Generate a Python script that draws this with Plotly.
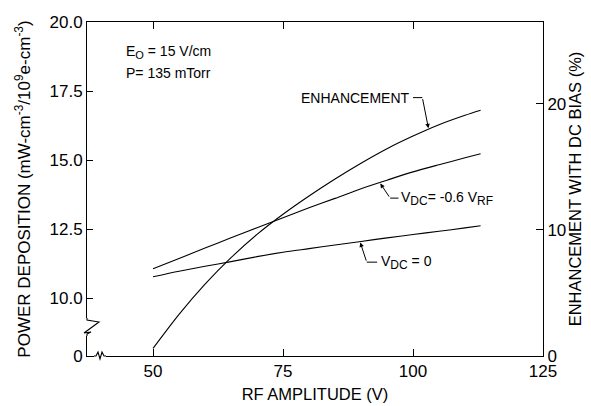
import numpy as np
import plotly.graph_objects as go

# ---------------- data ----------------
rf_amplitude = [50, 55, 60, 65, 70, 75, 80, 85, 90, 95, 100, 105, 110, 113]
power_vdc0 = [10.77, 10.97, 11.15, 11.32, 11.50, 11.66, 11.79, 11.92, 12.05, 12.18, 12.30, 12.42, 12.54, 12.62]
power_vdc_neg06 = [11.06, 11.43, 11.81, 12.18, 12.55, 12.91, 13.27, 13.61, 13.96, 14.27, 14.57, 14.83, 15.08, 15.23]
enhancement_pct = [0.6, 3.3, 5.7, 7.8, 9.65, 11.25, 12.7, 14.05, 15.3, 16.45, 17.45, 18.35, 19.1, 19.5]

x_ticks = [50, 75, 100, 125]
y_ticks = [10.0, 12.5, 15.0, 17.5, 20.0]
y_tick_text = ["10.0", "12.5", "15.0", "17.5", "20.0"]
y2_ticks = [0, 10, 20]

# axis layout (broken axis: bottom of left axis is labelled 0)
X_RANGE = [37.3, 125.0]
Y_BREAK_BASE = 7.9
Y_RANGE = [Y_BREAK_BASE, 20.0]
Y2_RANGE = [0.0, 26.5]

W, H = 591, 406
L, R, T, B = 87, 543, 22, 356   # plot-area pixel edges
FONT = "Liberation Sans, Arial, sans-serif"
INK = "#000000"


def px(xp, yp):
    """pixel -> paper coordinates (for decorative frame pieces)"""
    return (xp - L) / (R - L), (B - yp) / (B - T)


fig = go.Figure()
line_style = dict(color=INK, width=1.1, shape="spline", smoothing=0.8)
fig.add_trace(go.Scatter(x=rf_amplitude, y=power_vdc0, mode="lines", line=line_style,
                         yaxis="y", showlegend=False))
fig.add_trace(go.Scatter(x=rf_amplitude, y=power_vdc_neg06, mode="lines", line=line_style,
                         yaxis="y", showlegend=False))
fig.add_trace(go.Scatter(x=rf_amplitude, y=enhancement_pct, mode="lines", line=line_style,
                         yaxis="y2", showlegend=False))

# ---------------- frame decorations (axis breaks) ----------------
shapes = []
x0, y0 = px(L - 4, 336)
x1, y1 = px(L + 14, 318)
shapes.append(dict(type="rect", xref="paper", yref="paper", x0=x0, y0=y0, x1=x1, y1=y1,
                   fillcolor="white", line=dict(width=0), layer="above"))
x0, y0 = px(94, B + 5)
x1, y1 = px(106, B - 5)
shapes.append(dict(type="rect", xref="paper", yref="paper", x0=x0, y0=y0, x1=x1, y1=y1,
                   fillcolor="white", line=dict(width=0), layer="above"))


def path_from(points):
    s = ""
    for i, (a, b) in enumerate(points):
        pa, pb = px(a, b)
        s += ("M" if i == 0 else " L") + f" {pa:.5f},{pb:.5f}"
    return s


zig = [(L, 318), (L, 320), (99, 322), (84, 333), (91, 332), (L, 334), (L, 336)]
shapes.append(dict(type="path", xref="paper", yref="paper", path=path_from(zig),
                   line=dict(color=INK, width=1.1), layer="above"))
wig = [(94, B), (96, B), (98, B - 4), (100, B + 3), (102, B - 4), (104, B), (106, B)]
shapes.append(dict(type="path", xref="paper", yref="paper", path=path_from(wig),
                   line=dict(color=INK, width=1.1), layer="above"))

# ---------------- labels and leader lines ----------------
ann_font = dict(family=FONT, size=14, color=INK)
annotations = []


def sub(t, size=12):
    return f"<sub><span style='font-size:{size}px'>{t}</span></sub>"


annotations.append(dict(xref="paper", yref="paper", x=px(124, 0)[0], y=px(0, 52)[1],
                        xanchor="left", yanchor="middle", showarrow=False,
                        text="E" + sub("O", 11) + " = 15 V/cm", font=ann_font))
annotations.append(dict(xref="paper", yref="paper", x=px(124, 0)[0], y=px(0, 73)[1],
                        xanchor="left", yanchor="middle", showarrow=False,
                        text="P= 135 mTorr", font=ann_font))

# ENHANCEMENT label (points to enhancement curve on y2)
enh_tip_x = 103.0
enh_tip_y = float(np.interp(enh_tip_x, rf_amplitude, enhancement_pct))
enh_elbow = (101.8, 20.5)
annotations.append(dict(xref="x", yref="y2", x=99.9, y=enh_elbow[1], xanchor="right",
                        yanchor="middle", showarrow=False, text="ENHANCEMENT", font=ann_font))
annotations.append(dict(xref="x", yref="y2", x=enh_tip_x, y=enh_tip_y, axref="x", ayref="y2",
                        ax=enh_elbow[0], ay=enh_elbow[1], text="", showarrow=True,
                        arrowhead=2, arrowsize=0.9, arrowwidth=1, arrowcolor=INK, standoff=1))
shapes.append(dict(type="line", xref="x", yref="y2", x0=100.0, y0=enh_elbow[1],
                   x1=enh_elbow[0], y1=enh_elbow[1], line=dict(color=INK, width=1)))

# V_DC = -0.6 V_RF label
n_tip_x = 93.6
n_tip_y = float(np.interp(n_tip_x, rf_amplitude, power_vdc_neg06))
n_elbow = (95.6, 13.62)
annotations.append(dict(xref="x", yref="y", x=97.4, y=n_elbow[1], xanchor="left",
                        yanchor="middle", showarrow=False,
                        text="V" + sub("DC") + "= -0.6 V" + sub("RF"), font=ann_font))
annotations.append(dict(xref="x", yref="y", x=n_tip_x, y=n_tip_y, axref="x", ayref="y",
                        ax=n_elbow[0], ay=n_elbow[1], text="", showarrow=True,
                        arrowhead=2, arrowsize=0.9, arrowwidth=1, arrowcolor=INK, standoff=1))
shapes.append(dict(type="line", xref="x", yref="y", x0=n_elbow[0], y0=n_elbow[1],
                   x1=97.2, y1=n_elbow[1], line=dict(color=INK, width=1)))

# V_DC = 0 label
z_tip_x = 89.8
z_tip_y = float(np.interp(z_tip_x, rf_amplitude, power_vdc0))
z_elbow = (91.1, 11.3)
annotations.append(dict(xref="x", yref="y", x=93.4, y=z_elbow[1], xanchor="left",
                        yanchor="middle", showarrow=False,
                        text="V" + sub("DC") + " = 0", font=ann_font))
annotations.append(dict(xref="x", yref="y", x=z_tip_x, y=z_tip_y, axref="x", ayref="y",
                        ax=z_elbow[0], ay=z_elbow[1], text="", showarrow=True,
                        arrowhead=2, arrowsize=0.9, arrowwidth=1, arrowcolor=INK, standoff=1))
shapes.append(dict(type="line", xref="x", yref="y", x0=z_elbow[0], y0=z_elbow[1],
                   x1=93.1, y1=z_elbow[1], line=dict(color=INK, width=1)))

tick_font = dict(family=FONT, size=17, color=INK)
title_font = dict(family=FONT, size=16.5, color=INK)

fig.update_layout(
    width=W, height=H,
    margin=dict(l=L, r=W - R, t=T, b=H - B, pad=0, autoexpand=False),
    paper_bgcolor="white", plot_bgcolor="white",
    showlegend=False,
    font=dict(family=FONT, color=INK),
    xaxis=dict(range=X_RANGE, tickvals=x_ticks, ticktext=[str(v) for v in x_ticks],
               ticks="inside", ticklen=7, tickwidth=1, tickcolor=INK,
               showline=True, linecolor=INK, linewidth=1, mirror="ticks",
               showgrid=False, zeroline=False, tickfont=tick_font, automargin=False,
               title=dict(text="RF AMPLITUDE (V)", font=title_font, standoff=8)),
    yaxis=dict(range=Y_RANGE, tickvals=[Y_BREAK_BASE] + y_ticks, ticktext=["0"] + y_tick_text,
               ticks="inside", ticklen=6, tickwidth=1, tickcolor=INK,
               showline=True, linecolor=INK, linewidth=1, mirror=False,
               showgrid=False, zeroline=False, tickfont=tick_font, automargin=False,
               title=dict(text="POWER DEPOSITION (mW-cm<sup>-3</sup>/10<sup>9</sup>e-cm<sup>-3</sup>)",
                          font=dict(family=FONT, size=17, color=INK), standoff=14)),
    yaxis2=dict(range=Y2_RANGE, tickvals=y2_ticks, overlaying="y", side="right",
                ticks="inside", ticklen=7, tickwidth=1, tickcolor=INK,
                showline=True, linecolor=INK, linewidth=1,
                showgrid=False, zeroline=False, tickfont=tick_font, automargin=False,
                title=dict(text="ENHANCEMENT WITH DC BIAS (%)", font=title_font, standoff=4)),
    shapes=shapes,
    annotations=annotations,
)

fig.write_html("out.html")
